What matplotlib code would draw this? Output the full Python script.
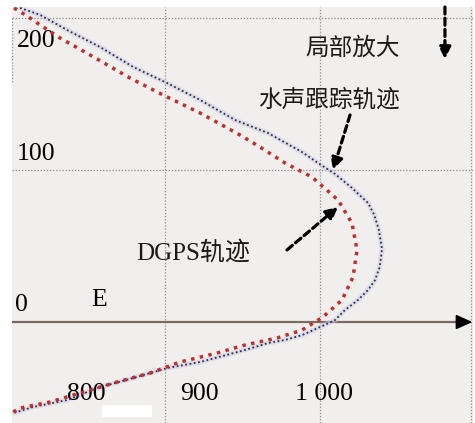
import matplotlib
matplotlib.use("Agg")
import matplotlib.pyplot as plt
import matplotlib.patches as patches

# DGPS track (E, N) in metres
dgps_e = [802.6, 811.0, 819.4, 832.3, 851.6, 877.4, 900.0, 922.6, 948.4, 961.3,
          977.4, 994.8, 1011.6, 1020.6, 1023.9, 1021.3, 1014.2, 1001.9, 988.4,
          972.3, 951.6, 933.5, 909.7, 890.3, 869.0, 847.1, 825.8, 806.5, 802.0]
dgps_n = [206.6, 201.3, 195.4, 186.8, 175.7, 160.5, 148.7, 137.5, 123.0, 115.1,
          104.6, 95.4, 80.3, 65.1, 47.4, 29.6, 14.5, 3.3, -5.3,
          -10.5, -15.1, -20.4, -26.3, -33.6, -39.5, -46.1, -52.6, -56.6, -59.2]

# underwater acoustic tracking result (E, N)
usbl_e = [806.5, 819.4, 836.8, 858.1, 879.4, 901.3, 922.6, 945.2, 966.5, 988.4,
          998.7, 1009.7, 1020.6, 1031.0, 1035.0, 1038.0, 1040.0, 1038.5, 1035.5,
          1031.0, 1024.5, 1016.1, 1009.7, 998.7, 988.4, 977.4, 966.5, 951.6,
          922.6, 901.3, 879.4, 858.1, 836.8, 814.8, 802.0]
usbl_n = [206.6, 202.0, 192.1, 180.9, 167.8, 157.2, 146.1, 132.9, 124.3, 111.8,
          104.6, 97.4, 88.2, 78.3, 70.5, 60.5, 48.0, 36.2, 27.6,
          21.1, 14.5, 7.9, 1.3, -3.9, -8.6, -11.8, -13.8, -18.4,
          -26.3, -30.3, -36.8, -42.8, -51.3, -55.9, -59.9]

x_labels = ["800", "900", "1 000"]
x_label_pos = [849.0, 921.9, 1002.6]
y_labels = ["200", "100"]
y_label_pos = [184.9, 110.5]

BG = "#f1efed"
SERIF = ["Liberation Serif", "DejaVu Serif"]
CJK = ["Noto Sans CJK SC", "DejaVu Sans"]

fig = plt.figure(figsize=(4.75, 4.23), dpi=100)
fig.patch.set_facecolor("white")
ax = fig.add_axes([12 / 475, 0.0, 461 / 475, 416 / 423])
ax.set_facecolor(BG)
ax.set_xlim(801.3, 1098.7)
ax.set_ylim(-66.4, 207.2)
for s in ax.spines.values():
    s.set_visible(False)
ax.set_xticks([])
ax.set_yticks([])

# dotted grid
grid_kw = dict(color="#8c8c8c", lw=0.9, ls=(0, (1, 1.5)), zorder=1)
for gx in [900, 1000, 1097.6]:
    ax.axvline(gx, **grid_kw)
for gy in [100, 200]:
    ax.axhline(gy, **grid_kw)
ax.plot([801.6, 801.6], [200, 157], **grid_kw)

# east axis with arrow
ax.plot([801.3, 1090], [0, 0], color="#7a6a64", lw=1.6, zorder=2)
ax.annotate("", xy=(1098.3, 0), xytext=(1088, 0),
            arrowprops=dict(arrowstyle="-|>,head_length=1.0,head_width=0.45",
                            color="black", lw=1.2, shrinkA=0, shrinkB=0), zorder=3)

# tracks
ax.plot(usbl_e, usbl_n, color="#cfcfdc", lw=3.6, alpha=0.55, zorder=3,
        solid_capstyle="round")
ax.plot(usbl_e, usbl_n, color="#2a2a68", lw=1.3, ls=(0, (1.0, 1.4)), zorder=4)
ax.plot(dgps_e, dgps_n, color="#c0302a", lw=2.5, ls=(0, (1, 1.55)),
        dash_capstyle="butt", zorder=5)

# labels
for lab, y in zip(y_labels, y_label_pos):
    ax.text(804.3, y, lab, family=SERIF, fontsize=18.5, ha="left", va="center")
for lab, x in zip(x_labels, x_label_pos):
    ax.text(x, -47.4, lab, family=SERIF, fontsize=18.5, ha="center", va="center")
ax.text(807.4, 11.2, "0", family=SERIF, fontsize=18.5, ha="center", va="center")
ax.text(857.7, 14.8, "E", family=SERIF, fontsize=18.5, ha="center", va="center")

ax.text(1021.3, 180.3, "局部放大", family=CJK, fontsize=17, ha="center", va="center",
        color="#1a1a1a")
ax.text(1005.8, 146.1, "水声跟踪轨迹", family=CJK, fontsize=17, ha="center",
        va="center", color="#1a1a1a")
ax.text(918.1, 45.4, "DGPS轨迹", family=["Liberation Serif", "Noto Sans CJK SC"],
        fontsize=18, ha="center", va="center", color="#1a1a1a")

# dashed pointer arrows
arrow_kw = dict(arrowstyle="-|>,head_length=0.7,head_width=0.35", color="black",
                lw=2.3, linestyle=(0, (2.2, 1.3)), shrinkA=0, shrinkB=0)
ax.annotate("", xy=(1080.6, 173.0), xytext=(1080.6, 207.2), arrowprops=arrow_kw)
ax.annotate("", xy=(1008.4, 100.0), xytext=(1019.4, 136.2), arrowprops=arrow_kw)
ax.annotate("", xy=(1011.6, 75.7), xytext=(978.7, 47.4), arrowprops=arrow_kw)

# blank patch near the bottom
ax.add_patch(patches.Rectangle((105 / 475 - 12 / 475, 0.015), 50 / 461, 0.028,
                               transform=ax.transAxes, facecolor="white",
                               edgecolor="none", zorder=6))

fig.savefig("out.png", dpi=100, facecolor="white")
